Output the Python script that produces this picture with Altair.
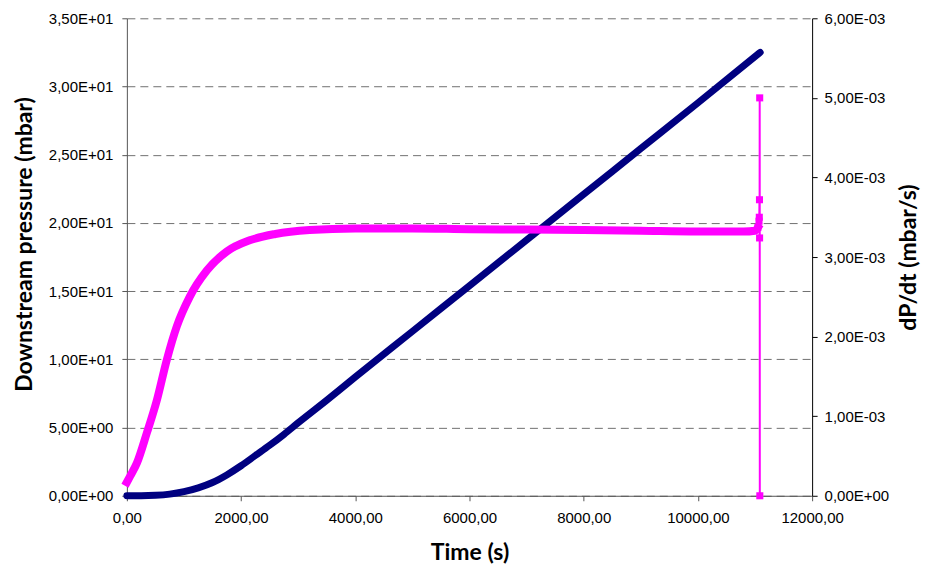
import altair as alt
import pandas as pd

# Downstream pressure (mbar) vs time (s)
p_time = [0, 250, 500, 750, 1000, 1250, 1500, 1750, 2000, 2250, 2500, 2750, 3000,
          3500, 4000, 5000, 6000, 7000, 8000, 9000, 10000, 11090]
p_val = [0.0, 0.0, 0.03, 0.12, 0.3, 0.58, 0.97, 1.53, 2.2, 2.95, 3.7, 4.5, 5.35,
         7.0, 8.7, 12.05, 15.4, 18.75, 22.1, 25.45, 28.8, 32.5]

# dP/dt (mbar/s) vs time (s) - main curve
d_time = [0, 60, 175, 350, 525, 700, 875, 1100, 1400, 1750, 2150, 2600, 3200, 4000,
          5000, 6000, 7000, 8000, 9000, 10000, 10800, 11000, 11050]
d_val = [1.7e-4, 2.5e-4, 4.1e-4, 7.9e-4, 1.20e-3, 1.71e-3, 2.13e-3, 2.50e-3, 2.83e-3,
         3.07e-3, 3.21e-3, 3.29e-3, 3.34e-3, 3.36e-3, 3.36e-3, 3.35e-3, 3.345e-3,
         3.34e-3, 3.33e-3, 3.32e-3, 3.32e-3, 3.33e-3, 3.37e-3]

# dP/dt final scattered points
t_time = [11050, 11070, 11075, 11078, 11080, 11082, 11084]
t_val = [3.37e-3, 3.45e-3, 3.50e-3, 3.72e-3, 3.24e-3, 5.0e-3, 0.0]

x_ticks = [0, 2000, 4000, 6000, 8000, 10000, 12000]
left_ticks = [0, 5, 10, 15, 20, 25, 30, 35]
right_ticks = [0, 0.001, 0.002, 0.003, 0.004, 0.005, 0.006]

dfp = pd.DataFrame({"t": p_time, "p": p_val})
dfd = pd.DataFrame({"t": d_time, "d": d_val})
dft = pd.DataFrame({"t": t_time, "d": t_val, "order": list(range(len(t_time)))})

LABEL_FONT = "Liberation Sans"
TITLE_FONT = "Lato"

x_enc = alt.X("t:Q",
              scale=alt.Scale(domain=[0, 12000], nice=False),
              axis=alt.Axis(values=x_ticks, title="Time (s)", grid=False, labelFlush=False,
                            labelExpr="replace(format(datum.value, '.2f'), '.', ',')",
                            domainColor="#555555", tickColor="#555555", tickSize=5,
                            labelPadding=10, titlePadding=16))

left_axis = alt.Axis(values=left_ticks, title="Downstream pressure (mbar)",
                     grid=True, gridColor="#707070", gridDash=[8, 5], gridWidth=1,
                     domainColor="#555555", tickColor="#555555", tickSize=5,
                     labelPadding=9, titlePadding=12, titleY=226,
                     labelExpr="datum.value == 0 ? '0,00E+00' : (datum.value < 10 ? replace(format(datum.value, '.2f'), '.', ',') + 'E+00' : replace(format(datum.value / 10, '.2f'), '.', ',') + 'E+01')")

right_axis = alt.Axis(values=right_ticks, title="dP/dt (mbar/s)", orient="right",
                      grid=False, domainColor="#000000", tickColor="#000000", tickSize=5,
                      labelPadding=7, titlePadding=32, titleAngle=270,
                      labelExpr="datum.value == 0 ? '0,00E+00' : replace(format(datum.value * 1000, '.2f'), '.', ',') + 'E-03'")

blue = alt.Chart(dfp).mark_line(color="#000080", strokeWidth=7, interpolate="monotone",
                                strokeCap="round").encode(
    x=x_enc,
    y=alt.Y("p:Q", scale=alt.Scale(domain=[0, 35], nice=False), axis=left_axis),
)

dscale = alt.Scale(domain=[0, 0.006], nice=False)
mag_main = alt.Chart(dfd).mark_line(color="#FF00FF", strokeWidth=8, interpolate="monotone",
                                    strokeCap="square").encode(
    x="t:Q",
    y=alt.Y("d:Q", scale=dscale, axis=right_axis),
)
mag_tail_line = alt.Chart(dft).mark_line(color="#FF00FF", strokeWidth=2).encode(
    x="t:Q", y=alt.Y("d:Q", scale=dscale), order="order:Q")
mag_tail_pts = alt.Chart(dft).mark_point(shape="square", filled=True, size=50,
                                         color="#FF00FF", opacity=1).encode(
    x="t:Q", y=alt.Y("d:Q", scale=dscale))

mag = alt.layer(mag_main, mag_tail_line, mag_tail_pts)

chart = alt.layer(blue, mag).resolve_scale(y="independent").properties(
    width=686, height=478,
    autosize=alt.AutoSizeParams(type="none"),
    padding={"left": 119, "top": 10, "right": 110, "bottom": 70},
).configure_view(stroke=None).configure_axis(
    labelFont=LABEL_FONT, labelFontSize=15, labelColor="#000000",
    titleFont=TITLE_FONT, titleFontSize=23, titleFontWeight="bold", titleColor="#000000",
)

chart.save("out.html", embed_options={"renderer": "svg", "actions": False})
